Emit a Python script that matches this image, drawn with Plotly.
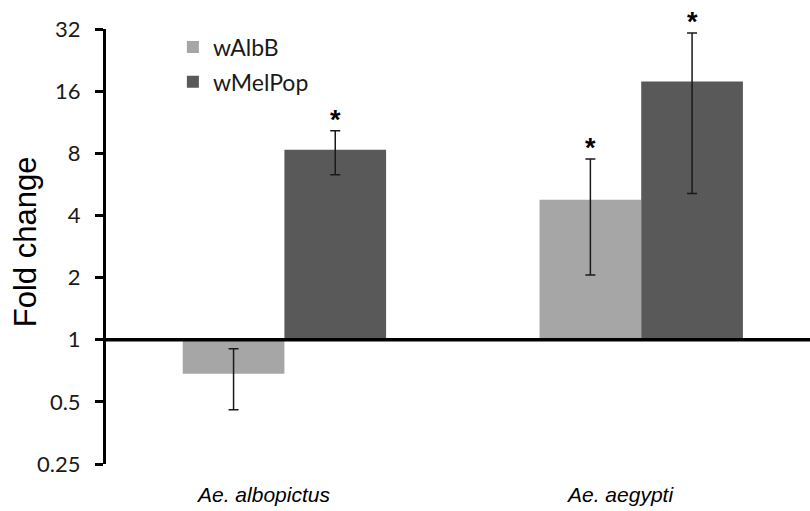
import numpy as np
import plotly.graph_objects as go

# Fold change of gene expression by Wolbachia strain, per mosquito species
species = ["Ae. albopictus", "Ae. aegypti"]
strains = ["wAlbB", "wMelPop"]

walbb_fold = [0.684, 4.77]
walbb_upper = [0.905, 7.5]
walbb_lower = [0.458, 2.06]

wmelpop_fold = [8.33, 17.8]
wmelpop_upper = [10.3, 30.6]
wmelpop_lower = [6.3, 5.11]

# significance markers (True -> asterisk over the error bar)
walbb_sig = [False, True]
wmelpop_sig = [True, True]

y_ticks = [0.25, 0.5, 1, 2, 4, 8, 16, 32]

colors = {"wAlbB": "#a6a6a6", "wMelPop": "#595959"}

pos = np.arange(len(species), dtype=float)
bar_w = 0.285
baseline = 1.0

series = [
    ("wAlbB", walbb_fold, walbb_upper, walbb_lower, walbb_sig, -bar_w),
    ("wMelPop", wmelpop_fold, wmelpop_upper, wmelpop_lower, wmelpop_sig, 0.0),
]

fig = go.Figure()
annotations = []
for i, (name, fold, upper, lower, sig, off) in enumerate(series):
    fold = np.array(fold)
    # bars grow from a fold change of 1 (up- or down-regulation)
    fig.add_trace(go.Bar(
        x=pos, y=fold - baseline, base=[baseline] * len(fold),
        offset=off, width=bar_w,
        name=name, legendgroup=name,
        marker=dict(color=colors[name], line=dict(width=0)),
        hoverinfo="skip",
    ))
    centers = pos + off + bar_w / 2
    fig.add_trace(go.Scatter(
        x=centers, y=fold, mode="markers",
        marker=dict(size=1, opacity=0),
        showlegend=False, hoverinfo="skip",
        error_y=dict(
            type="data", symmetric=False,
            array=np.array(upper) - fold,
            arrayminus=fold - np.array(lower),
            color="#1a1a1a", thickness=1.5, width=5,
        ),
    ))
    for c, u, s in zip(centers, upper, sig):
        if s:
            annotations.append(dict(
                x=c, y=np.log10(u), xref="x", yref="y",
                text="<b>*</b>", showarrow=False, yanchor="middle", yshift=11,
                font=dict(family="Liberation Sans", size=27, color="black"),
            ))

# species labels under each group
for p, sp in zip(pos, species):
    annotations.append(dict(
        x=p - 0.06, y=0, xref="x", yref="paper",
        text=f"<i>{sp}</i>", showarrow=False, yanchor="middle", yshift=-30,
        font=dict(family="Liberation Sans", size=21, color="black"),
    ))

# y-axis title, placed beside the tick labels
annotations.append(dict(
    x=-0.115, y=0.51, xref="paper", yref="paper",
    text="Fold change", textangle=-90, showarrow=False,
    xanchor="center", yanchor="middle",
    font=dict(family="Liberation Sans", size=31, color="black"),
))

fig.update_layout(
    width=810, height=511,
    margin=dict(l=106, r=0, t=29, b=47),
    paper_bgcolor="white", plot_bgcolor="white",
    barmode="overlay",
    showlegend=True,
    legend=dict(
        x=0.095, y=1.008, xanchor="left", yanchor="top",
        font=dict(family="Lato", size=23, color="#1a1a1a"),
        bgcolor="rgba(0,0,0,0)", traceorder="grouped", tracegroupgap=2,
    ),
    annotations=annotations,
    shapes=[dict(
        type="line", xref="paper", yref="y",
        x0=0, x1=1, y0=baseline, y1=baseline,
        line=dict(color="black", width=3.5),
    )],
)

fig.update_xaxes(
    range=[-0.5, 1.473], showticklabels=False, showgrid=False,
    zeroline=False, showline=False, ticks="",
)
fig.update_yaxes(
    type="log", range=[np.log10(0.25), np.log10(32)],
    tickvals=y_ticks, ticktext=[f"{t:g}" for t in y_ticks],
    showgrid=False, zeroline=False,
    showline=True, linecolor="black", linewidth=3,
    ticks="outside", ticklen=8, tickwidth=3, tickcolor="black",
    ticklabelstandoff=10,
    tickfont=dict(family="Lato", size=22, color="#1a1a1a"),
)

fig.write_html("out.html")
